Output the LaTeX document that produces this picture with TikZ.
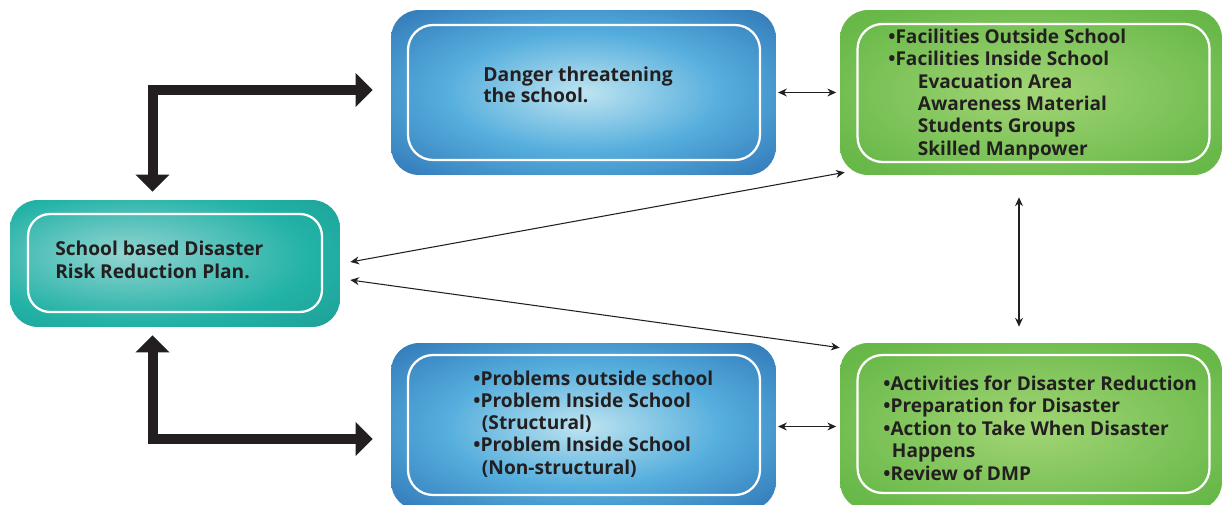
\documentclass[tikz,border=0pt]{standalone}
\usepackage{fontspec}
\setmainfont{Open Sans}
\usetikzlibrary{positioning,calc,arrows.meta}
\tikzset{>=stealth}
\definecolor{ink}{HTML}{231F20}
\definecolor{bluein}{HTML}{BEE4F0}
\definecolor{bluemid}{HTML}{55AEDD}
\definecolor{blueout}{HTML}{1C58A2}
\definecolor{tealin}{HTML}{92D4D1}
\definecolor{tealmid}{HTML}{22B2A6}
\definecolor{tealout}{HTML}{10686C}
\definecolor{greenin}{HTML}{A2D575}
\definecolor{greenout}{HTML}{5BB23F}
\pgfdeclareradialshading{blueshade}{\pgfpoint{0bp}{0bp}}{color(0bp)=(bluein); color(18bp)=(bluemid); color(40bp)=(blueout!80!bluemid); color(50bp)=(blueout); color(75bp)=(blueout)}
\pgfdeclareradialshading{tealshade}{\pgfpoint{-8bp}{4bp}}{color(0bp)=(tealin); color(26bp)=(tealmid); color(48bp)=(tealmid!60!tealout); color(60bp)=(tealout); color(80bp)=(tealout)}
\pgfdeclareradialshading{greenshade}{\pgfpoint{0bp}{0bp}}{color(0bp)=(greenin); color(30bp)=(greenout!80!greenin); color(50bp)=(greenout); color(75bp)=(greenout)}

\begin{document}
\begin{tikzpicture}[x=0.02cm,y=-0.02cm,
  outerbox/.style={rounded corners=0.56cm,minimum width=7.7cm,minimum height=3.3cm,inner sep=0pt},
  innerbox/.style={draw=white,line width=1.3pt,rounded corners=0.5cm,inner sep=0pt,minimum width=7.04cm,minimum height=2.76cm},
  txt/.style={text=ink,align=left,inner sep=0pt,anchor=base west},
  bigarrow/.style={draw=ink,line width=0.2cm,{Triangle[width=0.66cm,length=0.34cm]}-{Triangle[width=0.66cm,length=0.34cm]}},
  link/.style={draw=ink,line width=0.6pt,{Stealth[length=5pt,width=4.5pt]}-{Stealth[length=5pt,width=4.5pt]}}]
\useasboundingbox (0,0) rectangle (1223,504);
% boxes
\node[outerbox,shading=blueshade] (danger) at (583.5,92.5) {};
\node[innerbox,minimum height=2.7cm] (dangerin) at (584,92.5) {};
\node[outerbox,shading=tealshade,minimum width=6.6cm,minimum height=2.54cm] (plan) at (175,263.5) {};
\node[innerbox,rounded corners=0.44cm,minimum width=5.88cm,minimum height=1.96cm] (planin) at (175,263) {};
\node[outerbox,shading=greenshade,minimum width=7.64cm] (facil) at (1031,92.5) {};
\node[innerbox] (facilin) at (1033.5,93) {};
\node[outerbox,shading=blueshade,minimum height=3.34cm] (problems) at (583.5,426.5) {};
\node[innerbox,minimum height=2.8cm] (problemsin) at (584,425) {};
\node[outerbox,shading=greenshade,minimum width=7.64cm,minimum height=3.34cm] (actions) at (1031,426.5) {};
\node[innerbox] (actionsin) at (1033.5,424) {};
% texts (placed at the baseline of their last line)
\node[txt,font=\bfseries\fontsize{11}{11.4}\selectfont] (dangertxt) at (483,102)
  {Danger threatening\\the school.};
\node[txt,font=\bfseries\fontsize{10.9}{13}\selectfont] (plantxt) at (55,278)
  {School based Disaster\\Risk Reduction Plan.};
\node[txt,font=\bfseries\fontsize{10.85}{12.7}\selectfont] (faciltxt) at (888,155)
  {•Facilities Outside School\\•Facilities Inside School\\
   \hspace*{1.55em}Evacuation Area\\\hspace*{1.55em}Awareness Material\\
   \hspace*{1.55em}Students Groups\\\hspace*{1.55em}Skilled Manpower};
\node[txt,font=\bfseries\fontsize{10.9}{12.6}\selectfont] (problemstxt) at (473,474)
  {•Problems outside school\\•Problem Inside School\\
   \hspace*{0.45em}(Structural)\\•Problem Inside School\\
   \hspace*{0.45em}(Non-structural)};
\node[txt,font=\bfseries\fontsize{10.85}{12.75}\selectfont] (actionstxt) at (883,480)
  {•Activities for Disaster Reduction\\•Preparation for Disaster\\
   •Action to Take When Disaster\\\hspace*{0.45em}Happens\\•Review of DMP};
% connectors
\draw[bigarrow] ([xshift=-0.36cm,yshift=0.05cm]danger.west) -| ([xshift=-0.45cm,yshift=0.16cm]plan.north);
\draw[bigarrow] ([xshift=-0.36cm,yshift=-0.25cm]problems.west) -| ([xshift=-0.45cm,yshift=-0.16cm]plan.south);
\draw[link,shorten <=1pt,shorten >=2pt] (danger.east) -- (facil.west);
\draw[link,shorten <=1pt,shorten >=2pt] (problems.east) -- (actions.west);
\draw[link] ([xshift=-0.24cm,yshift=-0.44cm]facil.south) -- ([xshift=-0.24cm,yshift=0.32cm]actions.north);
\draw[link] ([xshift=0.2cm,yshift=0.03cm]plan.east) -- ([xshift=0.1cm,yshift=0.06cm]facil.south west);
\draw[link] ([xshift=0.2cm,yshift=-0.33cm]plan.east) -- ([yshift=-0.1cm]actions.north west);
\end{tikzpicture}
\end{document}
